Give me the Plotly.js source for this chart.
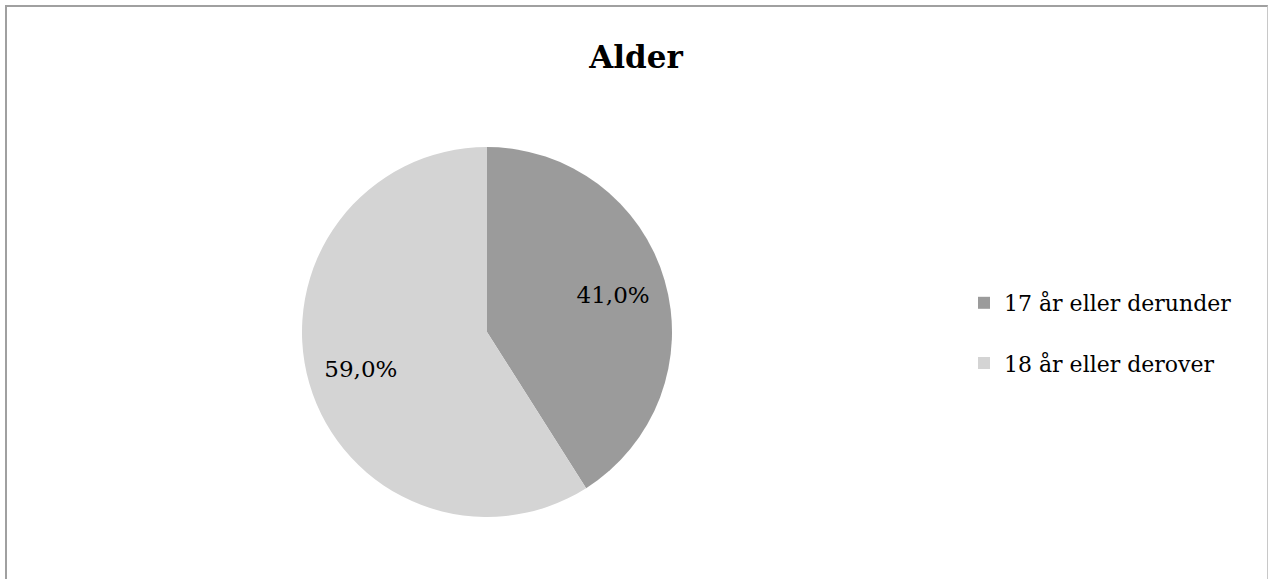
<!DOCTYPE html>
<html>
<head>
<meta charset="utf-8">
<script src="https://cdn.plot.ly/plotly-3.0.1.min.js"></script>
<style>
  html, body { margin: 0; padding: 0; background: #fff; }
  #wrap { position: relative; width: 1268px; height: 579px; overflow: hidden; }
  #chart { position: absolute; left: 0; top: 0; width: 1268px; height: 579px; }
  #frame { position: absolute; left: 5px; top: 5px; width: 1260px; height: 600px;
           border-left: 2px solid #a0a0a0; border-top: 2px solid #a0a0a0; border-right: 1px solid #c8c8c8;
           pointer-events: none; }
</style>
</head>
<body>
<div id="wrap">
  <div id="chart"></div>
  <div id="frame"></div>
</div>
<script>
const chartTitle = "Alder";
const categories = ["17 år eller derunder", "18 år eller derover"];
const shares = [41.0, 59.0];
const sliceColors = ["#9b9b9b", "#d4d4d4"];

const FONT = "'DejaVu Serif', 'Liberation Serif', serif";
const pieDomain = { x: [302/1268, 672/1268], y: [1 - 517/579, 1 - 147/579] };

const data = [
  {
    type: "pie",
    labels: categories.map(c => c + "<br> "),
    values: shares,
    sort: false,
    direction: "clockwise",
    rotation: 0,
    marker: { colors: sliceColors, line: { width: 0 } },
    textinfo: "none",
    domain: pieDomain,
    hoverinfo: "percent"
  },
  {
    type: "pie",
    labels: categories,
    values: shares,
    sort: false,
    direction: "clockwise",
    rotation: 0,
    hole: 0.42,
    showlegend: false,
    marker: { colors: ["rgba(0,0,0,0)", "rgba(0,0,0,0)"], line: { width: 0 } },
    texttemplate: "%{percent:.1%}",
    textposition: "inside",
    insidetextorientation: "horizontal",
    textfont: { family: FONT, size: 23, color: "#000" },
    domain: pieDomain,
    hoverinfo: "skip"
  }
];

const layout = {
  width: 1268, height: 579,
  margin: { l: 0, r: 0, t: 0, b: 0 },
  paper_bgcolor: "#ffffff",
  separators: ", ",
  title: {
    text: "<b>" + chartTitle + "</b>",
    font: { family: FONT, size: 31, color: "#000" },
    x: 636/1268, xanchor: "center",
    y: 1 - 57/579, yanchor: "middle"
  },
  showlegend: true,
  legend: {
    x: 964/1268, xanchor: "left",
    y: 1 - 282/579, yanchor: "top",
    valign: "top",
    font: { family: FONT, size: 22, color: "#000" },
    itemclick: false, itemdoubleclick: false,
    bgcolor: "rgba(0,0,0,0)"
  }
};

Plotly.newPlot("chart", data, layout, { displayModeBar: false, staticPlot: true });
</script>
</body>
</html>
